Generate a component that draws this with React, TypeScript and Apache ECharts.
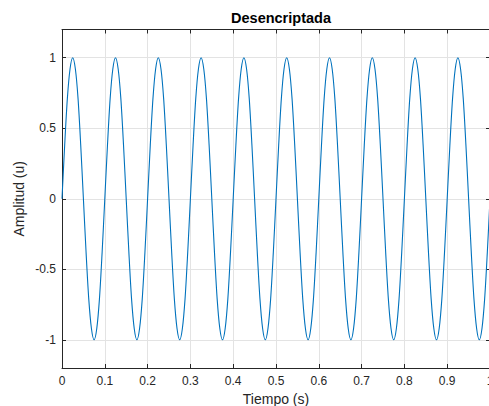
import React, { useEffect, useRef } from "react";
import * as echarts from "echarts";

const TITLE = "Desencriptada";
const X_NAME = "Tiempo (s)";
const Y_NAME = "Amplitud (u)";

const timeValues: number[] = [
  0, 0.00625, 0.0125, 0.01875, 0.025, 0.03125, 0.0375, 0.04375, 0.05, 0.05625, 0.0625, 0.06875, 0.075, 0.08125, 0.0875, 0.09375,
  0.1, 0.10625, 0.1125, 0.11875, 0.125, 0.13125, 0.1375, 0.14375, 0.15, 0.15625, 0.1625, 0.16875, 0.175, 0.18125, 0.1875, 0.19375,
  0.2, 0.20625, 0.2125, 0.21875, 0.225, 0.23125, 0.2375, 0.24375, 0.25, 0.25625, 0.2625, 0.26875, 0.275, 0.28125, 0.2875, 0.29375,
  0.3, 0.30625, 0.3125, 0.31875, 0.325, 0.33125, 0.3375, 0.34375, 0.35, 0.35625, 0.3625, 0.36875, 0.375, 0.38125, 0.3875, 0.39375,
  0.4, 0.40625, 0.4125, 0.41875, 0.425, 0.43125, 0.4375, 0.44375, 0.45, 0.45625, 0.4625, 0.46875, 0.475, 0.48125, 0.4875, 0.49375,
  0.5, 0.50625, 0.5125, 0.51875, 0.525, 0.53125, 0.5375, 0.54375, 0.55, 0.55625, 0.5625, 0.56875, 0.575, 0.58125, 0.5875, 0.59375,
  0.6, 0.60625, 0.6125, 0.61875, 0.625, 0.63125, 0.6375, 0.64375, 0.65, 0.65625, 0.6625, 0.66875, 0.675, 0.68125, 0.6875, 0.69375,
  0.7, 0.70625, 0.7125, 0.71875, 0.725, 0.73125, 0.7375, 0.74375, 0.75, 0.75625, 0.7625, 0.76875, 0.775, 0.78125, 0.7875, 0.79375,
  0.8, 0.80625, 0.8125, 0.81875, 0.825, 0.83125, 0.8375, 0.84375, 0.85, 0.85625, 0.8625, 0.86875, 0.875, 0.88125, 0.8875, 0.89375,
  0.9, 0.90625, 0.9125, 0.91875, 0.925, 0.93125, 0.9375, 0.94375, 0.95, 0.95625, 0.9625, 0.96875, 0.975, 0.98125, 0.9875, 0.99375,
  1,
];

const amplitudeValues: number[] = [
  0, 0.38, 0.71, 0.92, 1, 0.92, 0.71, 0.38, 0, -0.38, -0.71, -0.92, -1, -0.92, -0.71, -0.38,
  0, 0.38, 0.71, 0.92, 1, 0.92, 0.71, 0.38, 0, -0.38, -0.71, -0.92, -1, -0.92, -0.71, -0.38,
  0, 0.38, 0.71, 0.92, 1, 0.92, 0.71, 0.38, 0, -0.38, -0.71, -0.92, -1, -0.92, -0.71, -0.38,
  0, 0.38, 0.71, 0.92, 1, 0.92, 0.71, 0.38, 0, -0.38, -0.71, -0.92, -1, -0.92, -0.71, -0.38,
  0, 0.38, 0.71, 0.92, 1, 0.92, 0.71, 0.38, 0, -0.38, -0.71, -0.92, -1, -0.92, -0.71, -0.38,
  0, 0.38, 0.71, 0.92, 1, 0.92, 0.71, 0.38, 0, -0.38, -0.71, -0.92, -1, -0.92, -0.71, -0.38,
  0, 0.38, 0.71, 0.92, 1, 0.92, 0.71, 0.38, 0, -0.38, -0.71, -0.92, -1, -0.92, -0.71, -0.38,
  0, 0.38, 0.71, 0.92, 1, 0.92, 0.71, 0.38, 0, -0.38, -0.71, -0.92, -1, -0.92, -0.71, -0.38,
  0, 0.38, 0.71, 0.92, 1, 0.92, 0.71, 0.38, 0, -0.38, -0.71, -0.92, -1, -0.92, -0.71, -0.38,
  0, 0.38, 0.71, 0.92, 1, 0.92, 0.71, 0.38, 0, -0.38, -0.71, -0.92, -1, -0.92, -0.71, -0.38,
  0,
];

const X_MIN = 0;
const X_MAX = 1;
const X_STEP = 0.1;
const Y_MIN = -1.2;
const Y_MAX = 1.2;
const Y_TICK_MIN = -1;
const Y_TICK_MAX = 1;
const Y_STEP = 0.5;

const FONT = "Liberation Sans, Arial, Helvetica, sans-serif";
const AXIS_COLOR = "#262626";
const GRID_COLOR = "#e3e3e3";

const G_LEFT = 62;
const G_TOP = 29.5;
const G_W = 428;
const G_H = 338.5;

export default function App() {
  const ref = useRef<HTMLDivElement>(null);

  useEffect(() => {
    if (!ref.current) return;
    const chart = echarts.init(ref.current, undefined, { renderer: "svg" });
    const data = timeValues.map((t, i) => [t, amplitudeValues[i]]);

    const pxPerUnit = G_H / (Y_MAX - Y_MIN);
    const innerTop = G_TOP + (Y_MAX - Y_TICK_MAX) * pxPerUnit;
    const innerH = (Y_TICK_MAX - Y_TICK_MIN) * pxPerUnit;

    const xBase = {
      type: "value" as const,
      min: X_MIN,
      max: X_MAX,
      interval: X_STEP,
      gridIndex: 0,
      axisLine: { show: true, onZero: false, lineStyle: { color: AXIS_COLOR, width: 1 } },
      axisTick: { show: true, inside: true, length: 4, lineStyle: { color: AXIS_COLOR } },
    };

    const yTickAxis = (pos: "left" | "right", withLabels: boolean) => ({
      type: "value" as const,
      gridIndex: 1,
      min: Y_TICK_MIN,
      max: Y_TICK_MAX,
      interval: Y_STEP,
      position: pos,
      axisLine: { show: false, onZero: false },
      axisTick: { show: true, inside: true, length: 4, lineStyle: { color: AXIS_COLOR } },
      axisLabel: {
        show: withLabels,
        fontFamily: FONT,
        fontSize: 12,
        color: AXIS_COLOR,
        margin: 6,
      },
      splitLine: { show: withLabels, lineStyle: { color: GRID_COLOR, width: 1 } },
    });

    chart.setOption({
      animation: false,
      backgroundColor: "#ffffff",
      textStyle: { fontFamily: FONT },
      title: {
        text: TITLE,
        left: 276,
        top: 5,
        textAlign: "center",
        textStyle: { fontFamily: FONT, fontSize: 14.5, fontWeight: "bold", color: "#000000" },
      },
      grid: [
        { left: G_LEFT, top: G_TOP, width: G_W, height: G_H, containLabel: false, outerBoundsMode: "none" },
        { left: G_LEFT, top: innerTop, width: G_W, height: innerH, containLabel: false, outerBoundsMode: "none" },
      ],
      xAxis: [
        {
          ...xBase,
          position: "bottom",
          name: X_NAME,
          nameLocation: "middle",
          nameGap: 22,
          nameTextStyle: { fontFamily: FONT, fontSize: 14, color: AXIS_COLOR },
          axisLabel: {
            show: true,
            fontFamily: FONT,
            fontSize: 12,
            color: AXIS_COLOR,
            margin: 7,
            formatter: (v: number) => String(Math.round(v * 10) / 10),
          },
          splitLine: { show: true, lineStyle: { color: GRID_COLOR, width: 1 } },
        },
        {
          ...xBase,
          position: "top",
          axisLabel: { show: false },
          splitLine: { show: false },
        },
        {
          type: "value",
          gridIndex: 1,
          min: X_MIN,
          max: X_MAX,
          show: false,
        },
      ],
      yAxis: [
        {
          type: "value",
          gridIndex: 0,
          min: Y_MIN,
          max: Y_MAX,
          position: "left",
          name: Y_NAME,
          nameLocation: "middle",
          nameGap: 36,
          nameRotate: 90,
          nameTextStyle: { fontFamily: FONT, fontSize: 14, color: AXIS_COLOR },
          axisLine: { show: true, onZero: false, lineStyle: { color: AXIS_COLOR, width: 1 } },
          axisTick: { show: false },
          axisLabel: { show: false },
          splitLine: { show: false },
        },
        {
          type: "value",
          gridIndex: 0,
          min: Y_MIN,
          max: Y_MAX,
          position: "right",
          axisLine: { show: true, onZero: false, lineStyle: { color: AXIS_COLOR, width: 1 } },
          axisTick: { show: false },
          axisLabel: { show: false },
          splitLine: { show: false },
        },
        yTickAxis("left", true),
        yTickAxis("right", false),
      ],
      series: [
        {
          type: "line",
          data,
          xAxisIndex: 0,
          yAxisIndex: 0,
          smooth: 0.3,
          symbol: "none",
          lineStyle: { color: "#0072BD", width: 1.1 },
          clip: true,
          z: 5,
        },
      ],
    });

    return () => chart.dispose();
  }, []);

  return (
    <div
      ref={ref}
      style={{ position: "fixed", left: 0, top: 0, width: 489, height: 406 }}
    />
  );
}
